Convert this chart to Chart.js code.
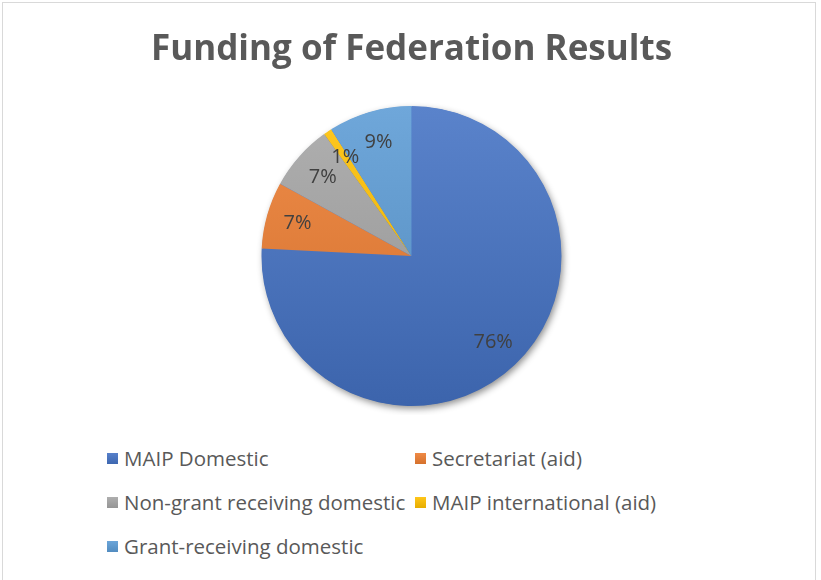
<!DOCTYPE html>
<html>
<head>
<meta charset="utf-8">
<script src="https://cdn.jsdelivr.net/npm/chart.js@4.4.1/dist/chart.umd.min.js"></script>
<style>
  body { margin: 0; background: #fff; font-family: 'Open Sans', sans-serif; }
  #frame { position: absolute; left: 2px; top: 2px; width: 812px; height: 620px; border: 1px solid #d9d9d9; }
  #wrap { position: absolute; left: 0; top: 0; width: 812px; height: 412px; }
  #legend { position: absolute; left: 104px; top: 433px; display: grid; grid-template-columns: 308px auto; }
  .item { display: flex; align-items: center; height: 44px; font-size: 20.5px; color: #595959; white-space: nowrap; }
  .box { width: 11px; height: 11px; margin-right: 6px; }
</style>
</head>
<body>
<div id="frame">
  <div id="wrap"><canvas id="pie"></canvas></div>
  <div id="legend"></div>
</div>
<script>
const titleText = 'Funding of Federation Results';
const categories = ['MAIP Domestic', 'Secretariat (aid)', 'Non-grant receiving domestic', 'MAIP international (aid)', 'Grant-receiving domestic'];
const shares = [75.8, 7.2, 7.1, 0.9, 9.0];
const colors = ['#4472C4', '#ED7D31', '#A5A5A5', '#FFC000', '#5B9BD5'];

function mix(hex, target, amt) {
  const n = parseInt(hex.slice(1), 16);
  const c = [(n >> 16) & 255, (n >> 8) & 255, n & 255].map(v => Math.round(v + (target - v) * amt));
  return `rgb(${c[0]},${c[1]},${c[2]})`;
}

function sliceFill(context) {
  const base = colors[context.dataIndex];
  const area = context.chart.chartArea;
  if (!area) return base;
  const g = context.chart.ctx.createLinearGradient(0, area.top, 0, area.bottom);
  g.addColorStop(0, mix(base, 255, 0.12));
  g.addColorStop(1, mix(base, 0, 0.12));
  return g;
}

// soft shadow under the whole pie, drawn once behind the slices
const pieShadow = {
  id: 'pieShadow',
  beforeDatasetsDraw(chart) {
    const arc = chart.getDatasetMeta(0).data[0];
    if (!arc) return;
    const p = arc.getProps(['x', 'y', 'outerRadius'], true);
    const ctx = chart.ctx;
    ctx.save();
    ctx.shadowColor = 'rgba(0,0,0,0.45)';
    ctx.shadowBlur = 7;
    ctx.shadowOffsetX = 2;
    ctx.shadowOffsetY = 3;
    ctx.fillStyle = colors[0];
    ctx.beginPath();
    ctx.arc(p.x, p.y, p.outerRadius - 0.5, 0, Math.PI * 2);
    ctx.fill();
    ctx.restore();
  }
};

const sliceLabels = {
  id: 'sliceLabels',
  afterDatasetsDraw(chart) {
    const ctx = chart.ctx;
    const data = chart.data.datasets[0].data;
    const total = data.reduce((a, b) => a + b, 0);
    ctx.save();
    ctx.font = '20px "Open Sans"';
    ctx.fillStyle = '#404040';
    ctx.textAlign = 'center';
    ctx.textBaseline = 'middle';
    chart.getDatasetMeta(0).data.forEach((arc, i) => {
      const p = arc.getProps(['x', 'y', 'startAngle', 'endAngle', 'outerRadius'], true);
      const mid = (p.startAngle + p.endAngle) / 2;
      const r = p.outerRadius * 0.79;
      ctx.fillText(Math.round(data[i] / total * 100) + '%', p.x + Math.cos(mid) * r, p.y + Math.sin(mid) * r);
    });
    ctx.restore();
  }
};

new Chart(document.getElementById('pie'), {
  type: 'pie',
  data: {
    labels: categories,
    datasets: [{
      data: shares,
      backgroundColor: sliceFill,
      borderWidth: 0,
      clip: false
    }]
  },
  options: {
    responsive: true,
    maintainAspectRatio: false,
    animation: false,
    layout: { padding: { left: 5, bottom: 9 } },
    plugins: {
      legend: { display: false },
      tooltip: { enabled: false },
      title: {
        display: true,
        text: titleText,
        color: '#595959',
        font: { family: 'Open Sans', size: 35, weight: 'bold' },
        padding: { top: 26, bottom: 35 }
      }
    }
  },
  plugins: [pieShadow, sliceLabels]
});

const legendDiv = document.getElementById('legend');
categories.forEach((name, i) => {
  const item = document.createElement('div');
  item.className = 'item';
  const box = document.createElement('span');
  box.className = 'box';
  box.style.background = `linear-gradient(${mix(colors[i], 255, 0.1)}, ${mix(colors[i], 0, 0.1)})`;
  const label = document.createElement('span');
  label.textContent = name;
  item.appendChild(box);
  item.appendChild(label);
  legendDiv.appendChild(item);
});
</script>
</body>
</html>
